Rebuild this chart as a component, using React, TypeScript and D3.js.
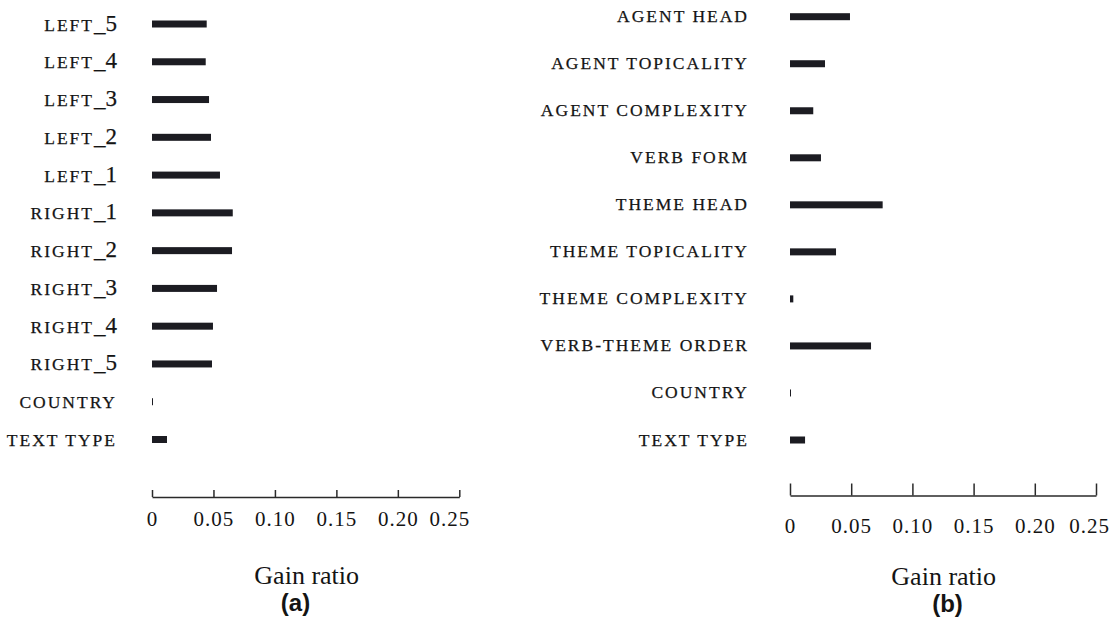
import React, { useEffect, useRef } from "react";
import * as d3 from "d3";

// panel (a)
const LEFT_CATEGORIES = [
  "LEFT_5", "LEFT_4", "LEFT_3", "LEFT_2", "LEFT_1",
  "RIGHT_1", "RIGHT_2", "RIGHT_3", "RIGHT_4", "RIGHT_5",
  "COUNTRY", "TEXT TYPE",
];
const LEFT_VALUES = [
  0.0445, 0.0437, 0.0464, 0.048, 0.0553,
  0.0657, 0.0651, 0.0529, 0.0496, 0.0488,
  0.0008, 0.0122,
];

// panel (b)
const RIGHT_CATEGORIES = [
  "AGENT HEAD", "AGENT TOPICALITY", "AGENT COMPLEXITY", "VERB FORM",
  "THEME HEAD", "THEME TOPICALITY", "THEME COMPLEXITY", "VERB-THEME ORDER",
  "COUNTRY", "TEXT TYPE",
];
const RIGHT_VALUES = [
  0.049, 0.0286, 0.019, 0.0253,
  0.0757, 0.0376, 0.0027, 0.0662,
  0.0006, 0.0123,
];

const TICKS = [0, 0.05, 0.1, 0.15, 0.2, 0.25];
const AXIS_TITLE = "Gain ratio";

const SERIF = "'Liberation Serif', 'DejaVu Serif', serif";
const SANS = "'Liberation Sans', Arial, sans-serif";
const INK = "#1c1c22";
const TEXT = "#141414";

interface PanelCfg {
  cats: string[];
  values: number[];
  x0: number;
  x1: number;
  yTop: number;
  yBottom: number;
  labelRight: number;
  labelDy: number;
  axisY: number;
  tickSize: number;
  tickPad: number;
  lastDx: number;
  titleX: number;
  titleY: number;
  tag: string;
  tagX: number;
  tagY: number;
}

const fmt = (d: d3.NumberValue) => (+d === 0 ? "0" : d3.format(".2f")(+d));

function drawPanel(svg: d3.Selection<SVGSVGElement, unknown, null, undefined>, p: PanelCfg) {
  const x = d3.scaleLinear().domain([0, 0.25]).range([p.x0, p.x1]);
  const y = d3.scalePoint<string>().domain(p.cats).range([p.yTop, p.yBottom]);

  const g = svg.append("g");

  // bars
  g.selectAll("rect.bar")
    .data(p.cats)
    .join("rect")
    .attr("class", "bar")
    .attr("x", x(0))
    .attr("y", (d) => (y(d) as number) - 3.5)
    .attr("width", (_, i) => Math.max(1, x(p.values[i]) - x(0)))
    .attr("height", 7)
    .attr("fill", INK);

  // category labels: letters as small caps, digits / underscore full size
  const labels = g
    .selectAll("text.cat")
    .data(p.cats)
    .join("text")
    .attr("class", "cat")
    .attr("x", p.labelRight)
    .attr("y", (d) => (y(d) as number) + p.labelDy)
    .attr("text-anchor", "end")
    .attr("font-family", SERIF)
    .attr("fill", TEXT)
    .attr("stroke", TEXT)
    .attr("stroke-width", 0.25);

  labels.each(function (d) {
    const parts = d.match(/[_0-9]+|[^_0-9]+/g) || [d];
    const t = d3.select(this);
    parts.forEach((part) => {
      const big = /[_0-9]/.test(part[0]);
      t.append("tspan")
        .attr("font-size", big ? 23 : 17.5)
        .attr("letter-spacing", big ? 0 : 2)
        .text(part);
    });
  });

  // axis, ticks pointing up
  const axis = d3
    .axisBottom(x)
    .tickValues(TICKS)
    .tickFormat(fmt)
    .tickSizeInner(-p.tickSize)
    .tickSizeOuter(0)
    .tickPadding(p.tickPad);

  const ax = g.append("g").attr("transform", `translate(0,${p.axisY})`).call(axis);
  ax.select(".domain").attr("stroke", "#2a2a2a").attr("stroke-width", 1.5);
  ax.selectAll(".tick line").attr("stroke", "#2a2a2a").attr("stroke-width", 1.5);
  ax.selectAll(".tick text")
    .attr("font-family", SERIF)
    .attr("font-size", 21)
    .attr("letter-spacing", 1)
    .attr("fill", TEXT);
  ax.selectAll<SVGTextElement, number>(".tick text")
    .filter((d) => d === TICKS[TICKS.length - 1])
    .attr("x", p.lastDx);

  g.append("text")
    .attr("x", p.titleX)
    .attr("y", p.titleY)
    .attr("text-anchor", "middle")
    .attr("font-family", SERIF)
    .attr("font-size", 26)
    .attr("fill", TEXT)
    .text(AXIS_TITLE);

  g.append("text")
    .attr("x", p.tagX)
    .attr("y", p.tagY)
    .attr("text-anchor", "middle")
    .attr("font-family", SANS)
    .attr("font-weight", "bold")
    .attr("font-size", 24)
    .attr("fill", TEXT)
    .text(p.tag);
}

const App: React.FC = () => {
  const svgRef = useRef<SVGSVGElement | null>(null);

  useEffect(() => {
    if (!svgRef.current) return;
    const svg = d3.select(svgRef.current);
    svg.selectAll("*").remove();

    drawPanel(svg, {
      cats: LEFT_CATEGORIES,
      values: LEFT_VALUES,
      x0: 152,
      x1: 459.3,
      yTop: 24,
      yBottom: 439.5,
      labelRight: 117,
      labelDy: 6.5,
      axisY: 497,
      tickSize: 7,
      tickPad: 14.5,
      lastDx: -10,
      titleX: 306.7,
      titleY: 584,
      tag: "(a)",
      tagX: 295.5,
      tagY: 611,
    });

    drawPanel(svg, {
      cats: RIGHT_CATEGORIES,
      values: RIGHT_VALUES,
      x0: 790,
      x1: 1096,
      yTop: 16.7,
      yBottom: 440,
      labelRight: 749,
      labelDy: 5.5,
      axisY: 495.5,
      tickSize: 12,
      tickPad: 22.5,
      lastDx: -7,
      titleX: 943.7,
      titleY: 585,
      tag: "(b)",
      tagX: 947.5,
      tagY: 612,
    });
  }, []);

  return (
    <svg
      ref={svgRef}
      width={1112}
      height={619}
      style={{ position: "absolute", left: 0, top: 0, background: "#fff" }}
    />
  );
};

export default App;
